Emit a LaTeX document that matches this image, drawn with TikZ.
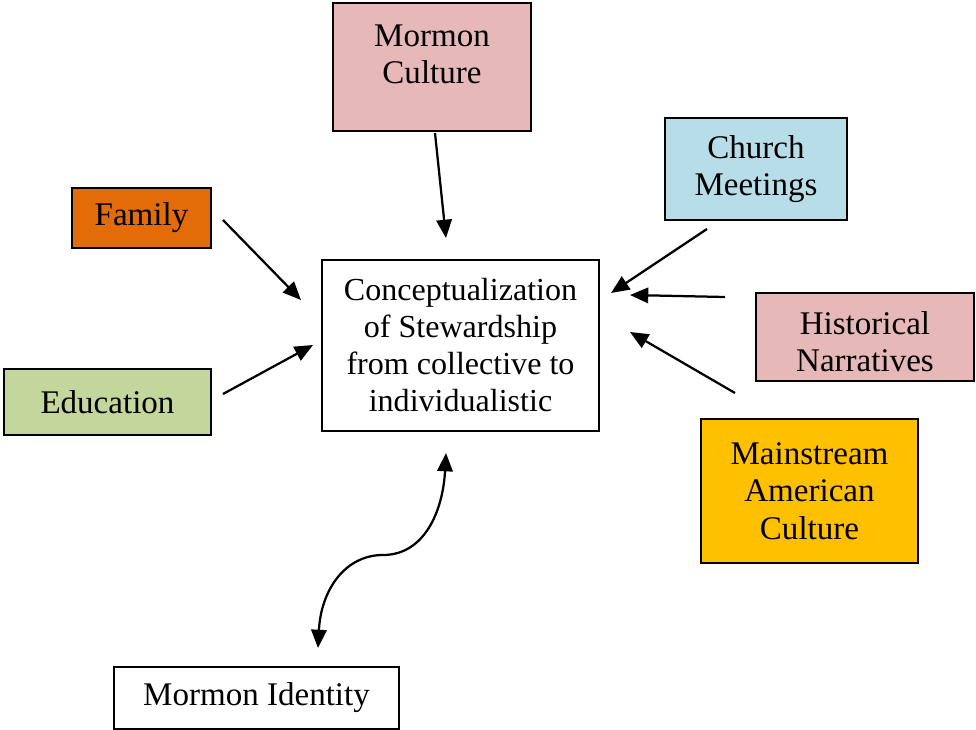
\documentclass[tikz,border=0pt]{standalone}
\usepackage{fontspec}
\setmainfont{Liberation Serif}
\usepackage{tikz}
\usetikzlibrary{arrows.meta}

\definecolor{pinkbox}{HTML}{E6B8B7}
\definecolor{bluebox}{HTML}{B7DEE8}
\definecolor{orangebox}{HTML}{E36C09}
\definecolor{greenbox}{HTML}{C3D69B}
\definecolor{goldbox}{HTML}{FFC000}

\begin{document}
\begin{tikzpicture}[x=0.025cm, y=-0.025cm,
  every node/.style={draw, line width=1.1pt, inner sep=0pt, align=center, font=\fontsize{23.5}{26.5}\selectfont},
  arr/.style={line width=1.6pt, -{Triangle[length=13pt, width=11pt]}}]
  \useasboundingbox (0,0) rectangle (976,730);
  \node [fill=pinkbox, minimum width=4.95cm, minimum height=3.2cm, text depth=18pt] (culture) at (432, 67) {Mormon\\Culture};
  \node [fill=bluebox, minimum width=4.55cm, minimum height=2.55cm] (church) at (756, 169) {Church\\Meetings};
  \node [fill=orangebox, minimum width=3.475cm, minimum height=1.5cm] (family) at (141.5, 218) {Family};
  \node [minimum width=6.925cm, minimum height=4.275cm, font=\fontsize{22.8}{26.3}\selectfont] (center) at (460.5, 345.5) {Conceptualization\\of Stewardship\\from collective to\\individualistic};
  \node [fill=pinkbox, minimum width=5.45cm, minimum height=2.2cm, text height=49pt] (hist) at (865, 337) {Historical\\Narratives};
  \node [fill=greenbox, minimum width=5.175cm, minimum height=1.65cm] (edu) at (107.5, 402) {Education};
  \node [fill=goldbox, minimum width=5.425cm, minimum height=3.6cm] (main) at (809.5, 491) {Mainstream\\American\\Culture};
  \node [minimum width=7.125cm, minimum height=1.55cm] (ident) at (256.5, 698) {Mormon Identity};
  % arrow ends
  \coordinate (c1) at (435,133);  \coordinate (c2) at (446,238);
  \coordinate (f1) at (223,220);  \coordinate (f2) at (301,300);
  \coordinate (e1) at (223,394);  \coordinate (e2) at (313,345);
  \coordinate (m1) at (707,229);  \coordinate (m2) at (611,293);
  \coordinate (h1) at (725,297);  \coordinate (h2) at (630,295);
  \coordinate (a1) at (735,393);  \coordinate (a2) at (630,332);
  \coordinate (i1) at (318,648);  \coordinate (i2) at (446,453);
  \draw [arr] (c1) -- (c2);
  \draw [arr] (f1) -- (f2);
  \draw [arr] (e1) -- (e2);
  \draw [arr] (m1) -- (m2);
  \draw [arr] (h1) -- (h2);
  \draw [arr] (a1) -- (a2);
  \draw [line width=1.6pt, {Triangle[length=13pt, width=11pt]}-{Triangle[length=13pt, width=11pt]}] (i1) .. controls (321,590) and (345,555) .. (383,555) .. controls (425,555) and (443,510) .. (i2);
\end{tikzpicture}
\end{document}
